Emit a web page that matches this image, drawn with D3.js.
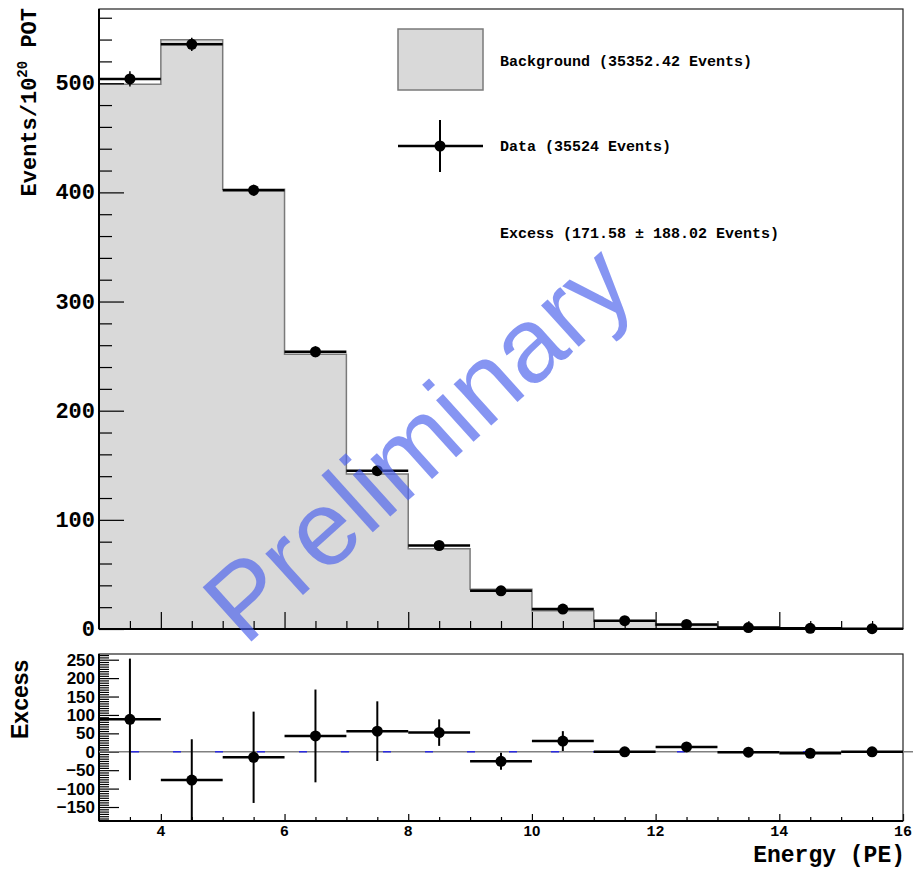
<!DOCTYPE html>
<html>
<head>
<meta charset="utf-8">
<script src="https://cdn.jsdelivr.net/npm/d3@7"></script>
<style>
body { margin: 0; background: #fff; }
svg text { fill: #000; }
</style>
</head>
<body>
<div class="chart"></div>
<script>
// bins in energy (PE)
const binEdges = [3, 4, 5, 6, 7, 8, 9, 10, 11, 12, 13, 14, 15, 16];
const background = [499, 539.9, 402.9, 251.6, 141.9, 73.6, 36.5, 16.7, 7.6, 3.5, 1.35, 0.8, 0.3];
const dataValues = [503.9, 535.6, 402, 254, 145, 76.5, 35, 18.3, 7.6, 4.2, 1.3, 0.6, 0.3];
const dataErr = [7, 6, 5, 5, 4, 3, 2.5, 2, 1.5, 1.2, 1, 0.8, 0.6];
const excess = [88, -77, -15, 43, 56, 52, -26, 29, 0, 13, -1, -4, 0];
const excessErr = [165, 111, 124, 126, 81, 36, 23, 27, 4, 3, 2, 1.5, 1];

const topYTicks = [0, 100, 200, 300, 400, 500];
const botYTicks = [-150, -100, -50, 0, 50, 100, 150, 200, 250];
const xTickLabels = [4, 6, 8, 10, 12, 14, 16];

const legendBg = "Background (35352.42 Events)";
const legendData = "Data (35524 Events)";
const legendExcess = "Excess (171.58 \u00b1 188.02 Events)";

const width = 914, height = 871;
const left = 99, right = 903;
const topY0 = 9, topY1 = 629;
const botY0 = 654, botY1 = 821;

const mono = "'Liberation Mono', 'DejaVu Sans Mono', monospace";
const sans = "'Liberation Sans', Arial, sans-serif";

const svg = d3.select(".chart").append("svg")
  .attr("width", width).attr("height", height);

const x = d3.scaleLinear().domain([3, 16]).range([left, right]);
const yTop = d3.scaleLinear().domain([0, 568]).range([topY1, topY0]);
const yBot = d3.scaleLinear().domain([-188, 265.5]).range([botY1, botY0]);

const bins = background.map((b, i) => ({
  x0: binEdges[i], x1: binEdges[i + 1], xc: (binEdges[i] + binEdges[i + 1]) / 2,
  bg: b, d: dataValues[i], de: dataErr[i], ex: excess[i], exe: excessErr[i]
}));

// ---------- top panel ----------
const stepPts = [[3, 0]].concat(bins.map(b => [b.x0, b.bg]), [[16, background[background.length - 1]], [16, 0]]);

svg.append("path")
  .datum(bins.map(b => [b.x0, b.bg]).concat([[16, background[background.length - 1]]]))
  .attr("fill", "#d9d9d9")
  .attr("d", d3.area().curve(d3.curveStepAfter).x(d => x(d[0])).y0(yTop(0)).y1(d => yTop(d[1])));

svg.append("path")
  .datum(stepPts)
  .attr("fill", "none")
  .attr("stroke", "#7a7a7a")
  .attr("stroke-width", 1.5)
  .attr("d", d3.line().curve(d3.curveStepAfter).x(d => x(d[0])).y(d => yTop(d[1])));

// axes of the top panel
function yAxisTicks(g, scale, values, size) {
  g.call(d3.axisLeft(scale).tickValues(values).tickSizeInner(-size).tickSizeOuter(0).tickFormat(""))
    .call(s => s.select(".domain").remove())
    .call(s => s.selectAll("line").attr("stroke", "#000").attr("stroke-width", 1.2));
}
function xAxisTicks(g, scale, values, size) {
  g.call(d3.axisBottom(scale).tickValues(values).tickSizeInner(-size).tickSizeOuter(0).tickFormat(""))
    .call(s => s.select(".domain").remove())
    .call(s => s.selectAll("line").attr("stroke", "#000").attr("stroke-width", 1.2));
}

svg.append("g").attr("transform", `translate(${left},0)`)
  .call(yAxisTicks, yTop, d3.range(20, 568, 20).filter(v => v % 100 !== 0), 13);
svg.append("g").attr("transform", `translate(${left},0)`)
  .call(yAxisTicks, yTop, topYTicks, 25);
svg.append("g").attr("transform", `translate(0,${topY1})`)
  .call(xAxisTicks, x, d3.range(3.5, 16, 0.5).filter(v => v % 2 !== 0), 8);
svg.append("g").attr("transform", `translate(0,${topY1})`)
  .call(xAxisTicks, x, [4, 6, 8, 10, 12, 14], 17);

svg.append("g").selectAll("text")
  .data(topYTicks).enter().append("text")
  .attr("x", left - 4)
  .attr("y", d => yTop(d) + 7)
  .attr("text-anchor", "end")
  .style("font", `bold 22px ${mono}`)
  .text(d => d);

// frame
svg.append("rect").attr("x", left).attr("y", topY0)
  .attr("width", right - left).attr("height", topY1 - topY0)
  .attr("fill", "none").attr("stroke", "#222").attr("stroke-width", 1.2);
svg.append("line").attr("x1", left).attr("x2", left).attr("y1", topY0).attr("y2", topY1)
  .attr("stroke", "#000").attr("stroke-width", 2);
svg.append("line").attr("x1", left).attr("x2", right).attr("y1", topY1).attr("y2", topY1)
  .attr("stroke", "#000").attr("stroke-width", 2);

// data
const dataG = svg.append("g");
dataG.selectAll(".hbar").data(bins).enter().append("line")
  .attr("x1", d => x(d.x0)).attr("x2", d => x(d.x1))
  .attr("y1", d => yTop(d.d)).attr("y2", d => yTop(d.d))
  .attr("stroke", "#000").attr("stroke-width", 2.5);
dataG.selectAll(".vbar").data(bins).enter().append("line")
  .attr("x1", d => x(d.xc)).attr("x2", d => x(d.xc))
  .attr("y1", d => yTop(d.d + d.de)).attr("y2", d => yTop(Math.max(0, d.d - d.de)))
  .attr("stroke", "#000").attr("stroke-width", 1.5);
dataG.selectAll("circle").data(bins).enter().append("circle")
  .attr("cx", d => x(d.xc)).attr("cy", d => yTop(d.d)).attr("r", 5.5)
  .attr("fill", "#000");

// y title
svg.append("text")
  .attr("transform", "translate(36,8) rotate(-90)")
  .attr("text-anchor", "end")
  .style("font", `bold 22px ${mono}`)
  .call(t => {
    t.append("tspan").text("Events/10");
    t.append("tspan").attr("dy", -9).style("font-size", "14px").text("20");
    t.append("tspan").attr("dy", 9).text(" POT");
  });

// legend
svg.append("rect").attr("x", 398).attr("y", 29).attr("width", 85).attr("height", 61)
  .attr("fill", "#d9d9d9").attr("stroke", "#7a7a7a").attr("stroke-width", 1.5);
svg.append("line").attr("x1", 398).attr("x2", 483).attr("y1", 146).attr("y2", 146)
  .attr("stroke", "#000").attr("stroke-width", 2.5);
svg.append("line").attr("x1", 440).attr("x2", 440).attr("y1", 120).attr("y2", 172)
  .attr("stroke", "#000").attr("stroke-width", 2);
svg.append("circle").attr("cx", 440).attr("cy", 146).attr("r", 5.5).attr("fill", "#000");
[[legendBg, 66], [legendData, 151], [legendExcess, 238]].forEach(([t, yy]) => {
  svg.append("text").attr("x", 500).attr("y", yy)
    .style("font", `bold 15px ${mono}`).text(t);
});

// ---------- bottom panel ----------
svg.append("g").attr("transform", `translate(${left},0)`)
  .call(yAxisTicks, yBot, d3.range(-187.5, 265, 6.25).filter(v => v % 50 !== 0), 10);
svg.append("g").attr("transform", `translate(${left},0)`)
  .call(yAxisTicks, yBot, botYTicks, 20);
svg.append("g").attr("transform", `translate(0,${botY1})`)
  .call(xAxisTicks, x, d3.range(3.5, 16, 0.5).filter(v => v % 2 !== 0), 4);
svg.append("g").attr("transform", `translate(0,${botY1})`)
  .call(xAxisTicks, x, xTickLabels, 7);

svg.append("g").selectAll("text")
  .data(botYTicks).enter().append("text")
  .attr("x", left - 4)
  .attr("y", d => yBot(d) + 6)
  .attr("text-anchor", "end")
  .style("font", `bold 17px ${sans}`)
  .text(d => d3.format("d")(d));

svg.append("g").selectAll("text")
  .data(xTickLabels).enter().append("text")
  .attr("x", d => x(d))
  .attr("y", 836)
  .attr("text-anchor", "middle")
  .style("font", d => d < 12 ? `bold 15px ${sans}` : `bold 15px ${mono}`)
  .text(d => d);

svg.append("rect").attr("x", left).attr("y", botY0)
  .attr("width", right - left).attr("height", botY1 - botY0)
  .attr("fill", "none").attr("stroke", "#222").attr("stroke-width", 1.2);
svg.append("line").attr("x1", left).attr("x2", left).attr("y1", botY0).attr("y2", botY1)
  .attr("stroke", "#000").attr("stroke-width", 2);
svg.append("line").attr("x1", left).attr("x2", right).attr("y1", botY1).attr("y2", botY1)
  .attr("stroke", "#000").attr("stroke-width", 2);

// zero line
svg.append("line").attr("x1", left).attr("x2", 913).attr("y1", yBot(0)).attr("y2", yBot(0))
  .attr("stroke", "#808080").attr("stroke-width", 1.5);
svg.append("line").attr("x1", left + 32).attr("x2", right).attr("y1", yBot(0)).attr("y2", yBot(0))
  .attr("stroke", "#2a2ae0").attr("stroke-width", 1.5).attr("stroke-dasharray", "8,34");

svg.append("clipPath").attr("id", "botclip").append("rect")
  .attr("x", left).attr("y", botY0).attr("width", right - left).attr("height", botY1 - botY0);
const exG = svg.append("g").attr("clip-path", "url(#botclip)");
exG.selectAll(".hbar").data(bins).enter().append("line")
  .attr("x1", d => x(d.x0)).attr("x2", d => x(d.x1))
  .attr("y1", d => yBot(d.ex)).attr("y2", d => yBot(d.ex))
  .attr("stroke", "#000").attr("stroke-width", 2.5);
exG.selectAll(".vbar").data(bins).enter().append("line")
  .attr("x1", d => x(d.xc)).attr("x2", d => x(d.xc))
  .attr("y1", d => yBot(d.ex + d.exe)).attr("y2", d => yBot(d.ex - d.exe))
  .attr("stroke", "#000").attr("stroke-width", 2);
exG.selectAll("circle").data(bins).enter().append("circle")
  .attr("cx", d => x(d.xc)).attr("cy", d => yBot(d.ex)).attr("r", 5.5)
  .attr("fill", "#000");

svg.append("text")
  .attr("transform", "translate(28,739) rotate(-90)")
  .style("font", `bold 23px ${sans}`)
  .text("Excess");

svg.append("text")
  .attr("x", 905).attr("y", 862)
  .attr("text-anchor", "end")
  .style("font", `bold 23px ${mono}`)
  .text("Energy (PE)");

// watermark
svg.append("text")
  .attr("transform", "translate(442,470) rotate(-42)")
  .attr("text-anchor", "middle")
  .style("font", `106px ${sans}`)
  .style("fill", "#4d63ec")
  .style("fill-opacity", 0.68)
  .text("Preliminary");
</script>
</body>
</html>
